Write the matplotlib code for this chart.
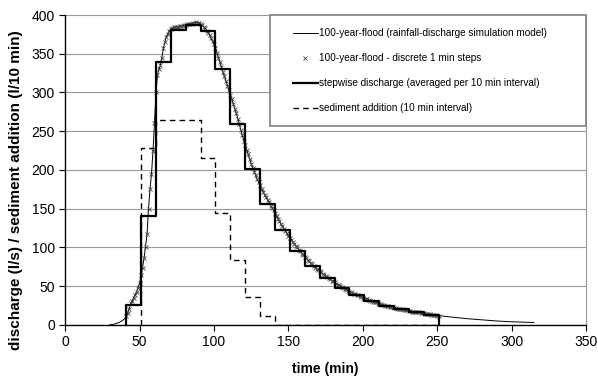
import numpy as np
import matplotlib
matplotlib.use("Agg")
import matplotlib.pyplot as plt
from matplotlib.patches import Rectangle

plt.rcParams['font.family'] = ['Liberation Sans', 'DejaVu Sans']

# discrete 1 min values of the 100-year flood (minutes 41..251)
t_min = np.arange(41, 252)
q_min = [
    11, 15, 21, 28, 31, 35, 39, 43, 48, 54,
    64, 74, 86, 101, 117, 150, 175, 195, 224, 260,
    300, 322, 330, 335, 345, 357, 365, 372, 376, 380,
    382, 383, 384, 384, 385, 385, 386, 386, 386, 387,
    387, 388, 388, 389, 389, 390, 390, 391, 390, 390,
    388, 387, 385, 383, 380, 377, 374, 370, 366, 362,
    357, 351, 345, 339, 333, 327, 321, 315, 309, 303,
    297, 291, 285, 279, 273, 266, 259, 252, 245, 238,
    232, 226, 220, 214, 208, 203, 198, 193, 188, 184,
    180, 176, 172, 168, 165, 161, 158, 154, 151, 148,
    144, 141, 137, 134, 130, 127, 124, 121, 118, 115,
    112, 110, 107, 104, 102, 100, 97, 95, 92, 90,
    88, 86, 84, 82, 80, 78, 76, 74, 72, 71,
    69, 68, 66, 65, 63, 62, 60, 59, 57, 56,
    55, 53, 52, 51, 50, 49, 47, 46, 45, 44,
    43, 42, 41, 40, 40, 39, 38, 37, 36, 35,
    34, 34, 33, 32, 31, 31, 30, 29, 29, 28,
    27, 27, 26, 26, 25, 24, 24, 23, 23, 23,
    22, 22, 21, 21, 20, 20, 20, 19, 19, 19,
    18, 18, 17, 17, 17, 16, 16, 16, 15, 15,
    15, 14, 14, 14, 14, 13, 13, 13, 13, 12,
    12,
]

# simulation curve outside the discrete range
t_pre = [30, 33, 36, 38, 40]
q_pre = [0, 1, 3, 5, 8]
t_post = [255, 260, 270, 280, 290, 300, 315]
q_post = [11, 10, 8, 6.5, 5, 4, 3]

# stepwise discharge, averaged per 10 min interval
step_edges = np.arange(41, 252, 10)
step_q = [26, 140, 340, 381, 387, 380, 330, 259, 201, 156, 122,
          96, 76, 60, 48, 39, 31, 25, 20, 17, 13]

# sediment addition per 10 min interval
sed_edges = np.arange(51, 252, 10)
sed_q = [228, 265, 265, 265, 216, 144, 84, 36, 12, 0,
         0, 0, 0, 0, 0, 0, 0, 0, 0, 0]

t_line = np.concatenate([t_pre, t_min, t_post])
q_line = np.concatenate([q_pre, q_min, q_post])

fig = plt.figure(figsize=(5.98, 3.76), dpi=100)
ax = fig.add_axes([0.109, 0.136, 0.871, 0.824])

ax.plot(t_line, q_line, color='black', lw=0.7,
        label='100-year-flood (rainfall-discharge simulation model)')
ax.plot(t_min, q_min, ls='none', marker='x', ms=2.5, mew=0.6, color='#444444',
        label='100-year-flood - discrete 1 min steps')

sx = np.concatenate([[step_edges[0]], step_edges])
sy = np.concatenate([[0], step_q, [0]])
ax.step(sx, sy, where='post', color='black', lw=1.6,
        label='stepwise discharge (averaged per 10 min interval)')

dx = np.concatenate([[sed_edges[0]], sed_edges])
dy = np.concatenate([[0], sed_q, [0]])
ax.step(dx, dy, where='post', color='black', lw=1.0, dashes=(4, 3),
        label='sediment addition (10 min interval)')

ax.set_xlim(0, 350)
ax.set_ylim(0, 400)
ax.set_xticks(np.arange(0, 351, 50))
ax.set_yticks(np.arange(0, 401, 50))
ax.grid(True, axis='y', color='#999999', lw=0.8)
ax.set_axisbelow(True)
ax.spines['top'].set_visible(False)
ax.spines['right'].set_color('#999999')
ax.spines['right'].set_linewidth(0.8)
ax.spines['left'].set_linewidth(1.0)
ax.spines['bottom'].set_linewidth(1.0)
ax.tick_params(direction='out', length=4, labelsize=10, width=0.8)
ax.tick_params(axis='y', right=False)

ax.set_xlabel('time (min)', fontweight='bold', fontsize=10, labelpad=9)
ax.set_ylabel('discharge (l/s) / sediment addition (l/10 min)', fontweight='bold',
              fontsize=11)
ax.yaxis.set_label_coords(-0.081, 0.435)

# legend box (Excel style, wider than its contents)
box = Rectangle((0.3935, 0.642), 0.6065, 0.358, transform=ax.transAxes,
                facecolor='white', edgecolor='#808080', lw=1.2, zorder=4.5,
                clip_on=False)
ax.add_patch(box)
leg = ax.legend(loc='upper left', bbox_to_anchor=(0.437, 0.958), fontsize=7.2,
                frameon=False, borderpad=0, labelspacing=1.5,
                handlelength=2.5, handletextpad=0.15, borderaxespad=0)
leg.set_zorder(5)

fig.savefig('out.png', dpi=100)
